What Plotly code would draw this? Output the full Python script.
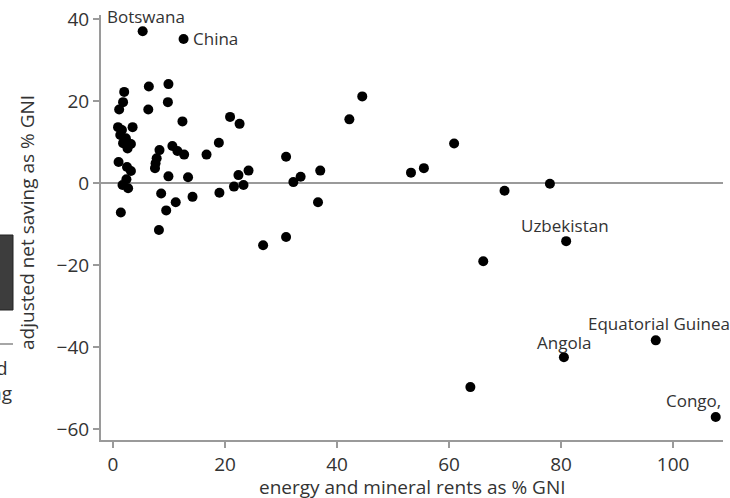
import plotly.graph_objects as go

# Unlabelled countries: energy & mineral rents (% GNI) vs adjusted net saving (% GNI)
rents = [2.0, 1.8, 1.1, 6.4, 9.9, 6.3, 9.8, 12.4, 20.9, 22.6,
         0.9, 1.6, 3.5, 1.3, 2.3, 1.8, 3.2, 2.6, 1.0, 2.5,
         3.2, 2.4, 1.7, 2.7, 1.4, 8.3, 7.8, 7.6, 7.5, 10.6,
         11.5, 12.7, 16.7, 18.9, 9.9, 13.4, 8.6, 11.2, 9.5, 8.2,
         14.2, 19.0, 21.6, 23.3, 22.4, 24.2, 30.9, 32.2, 33.5, 37.0,
         42.2, 44.5, 53.2, 55.5, 60.9, 69.9, 78.0, 66.1, 36.6, 30.9,
         26.8, 63.8]
saving = [22.3, 19.8, 18.0, 23.6, 24.2, 18.0, 19.8, 15.1, 16.2, 14.5,
          13.7, 13.0, 13.7, 11.8, 11.0, 9.8, 9.6, 8.5, 5.2, 4.0,
          3.0, 1.0, -0.4, -1.2, -7.1, 8.1, 6.1, 4.9, 3.7, 9.1,
          7.9, 7.0, 7.0, 9.9, 1.7, 1.5, -2.5, -4.6, -6.6, -11.4,
          -3.3, -2.3, -0.8, -0.4, 2.0, 3.1, 6.5, 0.3, 1.6, 3.1,
          15.6, 21.2, 2.6, 3.7, 9.7, -1.8, -0.1, -19.0, -4.6, -13.1,
          -15.1, -49.7]

# Labelled countries
lab_names = ["Botswana", "China", "Uzbekistan", "Angola", "Equatorial Guinea", "Congo,"]
lab_rents = [5.3, 12.6, 80.9, 80.5, 96.9, 107.6]
lab_saving = [37.1, 35.2, -14.1, -42.4, -38.3, -57.0]

x_ticks = [0, 20, 40, 60, 80, 100]
y_ticks = [-60, -40, -20, 0, 20, 40]

x_title = "energy and mineral rents as % GNI"
y_title = "adjusted net saving as % GNI"

FONT = "Open Sans"
TXT = "#333333"
AX = "#9a9a9a"

fig = go.Figure()
fig.add_trace(go.Scatter(
    x=rents + lab_rents, y=saving + lab_saving, mode="markers",
    marker=dict(color="black", size=10), hoverinfo="skip", showlegend=False))

# label placement (pixel offsets from the point)
offsets = {
    "Botswana": dict(xshift=3, yshift=15, xanchor="center"),
    "China": dict(xshift=7, yshift=0, xanchor="left"),
    "Uzbekistan": dict(xshift=-1, yshift=16, xanchor="center"),
    "Angola": dict(xshift=0, yshift=15, xanchor="center"),
    "Equatorial Guinea": dict(xshift=3, yshift=17, xanchor="center"),
    "Congo,": dict(xshift=7, yshift=17, xanchor="right"),
}
for n, xv, yv in zip(lab_names, lab_rents, lab_saving):
    o = offsets[n]
    fig.add_annotation(x=xv, y=yv, text=n, showarrow=False,
                       xshift=o["xshift"], yshift=o["yshift"], xanchor=o["xanchor"],
                       yanchor="middle", font=dict(family=FONT, size=17, color=TXT))

L, W, T, H = 101, 622, 15, 425
def px(p):
    return (p - L) / W
def py(p):
    return (T + H - p) / H

# axis titles
fig.add_annotation(xref="paper", yref="paper", x=px(412), y=py(487), text=x_title,
                   showarrow=False, xanchor="center", yanchor="middle",
                   font=dict(family=FONT, size=19, color=TXT))
fig.add_annotation(xref="paper", yref="paper", x=px(27), y=py(223), text=y_title,
                   showarrow=False, xanchor="center", yanchor="middle", textangle=-90,
                   font=dict(family=FONT, size=19, color=TXT))

# cropped fragments of a neighbouring figure at the left edge
fig.add_shape(type="rect", xref="paper", yref="paper",
              x0=px(-5), x1=px(13), y0=py(310), y1=py(235),
              fillcolor="#3d3d3d", line=dict(color="#222222", width=1))
fig.add_shape(type="line", xref="paper", yref="paper",
              x0=px(-5), x1=px(13), y0=py(344), y1=py(344),
              line=dict(color="#888888", width=1.5))
fig.add_annotation(xref="paper", yref="paper", x=px(10), y=py(368), text="d",
                   showarrow=False, xanchor="right", yanchor="middle",
                   font=dict(family=FONT, size=19, color=TXT))
fig.add_annotation(xref="paper", yref="paper", x=px(14), y=py(393), text="ng",
                   showarrow=False, xanchor="right", yanchor="middle",
                   font=dict(family=FONT, size=19, color=TXT))

fig.update_layout(
    width=730, height=498,
    margin=dict(l=L, r=730 - L - W, t=T, b=498 - T - H, autoexpand=False),
    paper_bgcolor="white", plot_bgcolor="white",
    font=dict(family=FONT, size=19, color=TXT),
    xaxis=dict(range=[-2.14, 108.9], tickvals=x_ticks, showgrid=False, zeroline=False,
               showline=True, linecolor=AX, linewidth=2, ticks="outside",
               ticklen=6, tickcolor=AX, tickwidth=1.5, automargin=False,
               tickfont=dict(size=19, color=TXT)),
    yaxis=dict(range=[-62.6, 41.05], tickvals=y_ticks, showgrid=False,
               zeroline=True, zerolinecolor=AX, zerolinewidth=2,
               showline=True, linecolor=AX, linewidth=2, ticks="outside",
               ticklen=6, tickcolor=AX, tickwidth=1.5, automargin=False,
               tickfont=dict(size=19, color=TXT)),
)

fig.write_html("out.html", config={"displayModeBar": False},
               post_script="document.body.style.margin='0';document.body.style.overflow='hidden';")
